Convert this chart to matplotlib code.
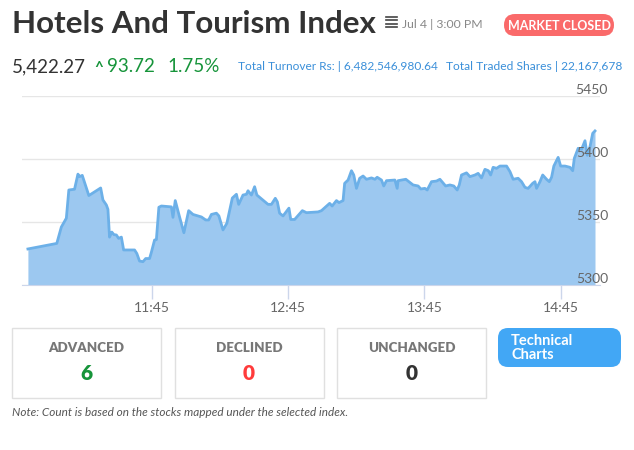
import matplotlib
matplotlib.use("Agg")
import matplotlib.pyplot as plt
from matplotlib.patches import FancyBboxPatch, Rectangle

plt.rcParams['font.family'] = ['Lato', 'DejaVu Sans']

# minutes after 11:00 and index value
minutes = [-9.4, 3.3, 5.3, 7.5, 8.6, 11.1, 12.6, 13.3, 14.5, 17.4, 22.6, 23.6, 25.1,
           25.8, 26.5, 27.5, 28.4, 29.5, 30.5, 31.7, 32.7, 37.5, 38.5, 39.7, 41.2,
           42.4, 44.1, 44.9, 46.3, 47.1, 48.2, 49.3, 53.7, 54.4, 55.4, 57.3, 59.2,
           61.3, 63.2, 66.9, 68.8, 70.1, 71.3, 73.5, 74.6, 76.4, 78.1, 80.5, 82.3,
           83.3, 85.2, 86.7, 87.4, 88.9, 90.3, 91.3, 96.2, 97.7, 99.4, 100.3, 101.3,
           102.8, 105.4, 106.2, 107.9, 111.3, 113.1, 118.2, 119.7, 123.3, 124.4,
           126.3, 127.4, 129.2, 129.9, 131.4, 132.9, 133.9, 135.1, 136.5, 138.0,
           139.5, 141.7, 143.2, 144.2, 146.1, 147.1, 148.3, 152.0, 153.0, 153.4,
           156.8, 160.0, 162.2, 163.4, 165.2, 166.2, 168.1, 170.3, 171.8, 174.3,
           176.2, 177.9, 179.4, 180.3, 181.3, 183.5, 185.0, 187.2, 188.6, 190.1,
           191.6, 193.1, 194.1, 195.2, 196.7, 198.2, 201.1, 202.6, 204.0, 206.2,
           207.7, 209.2, 210.6, 212.6, 213.6, 214.3, 215.8, 217.0, 218.7, 219.9,
           220.9, 221.9, 223.8, 224.9, 226.8, 229.0, 230.2, 230.9, 232.6, 234.1,
           235.6, 236.6, 237.8, 239.0, 240.0]
values = [5328.6, 5333.0, 5346.0, 5353.0, 5375.4, 5376.0, 5388.0, 5386.0, 5387.0,
          5371.0, 5377.0, 5367.5, 5363.5, 5360.0, 5338.0, 5342.0, 5340.0, 5339.7,
          5337.0, 5338.0, 5327.8, 5327.8, 5325.0, 5319.0, 5318.5, 5321.0, 5321.0,
          5326.0, 5335.7, 5336.0, 5361.7, 5362.7, 5362.0, 5353.7, 5367.0, 5354.0,
          5341.5, 5359.0, 5356.0, 5354.0, 5351.6, 5351.6, 5356.0, 5357.0, 5354.8,
          5343.7, 5349.0, 5369.0, 5372.0, 5364.0, 5371.4, 5372.0, 5374.8, 5371.4,
          5378.0, 5371.4, 5364.0, 5364.0, 5368.8, 5366.0, 5357.0, 5354.8, 5361.0,
          5352.0, 5352.0, 5359.0, 5357.4, 5358.0, 5359.0, 5364.8, 5362.7, 5367.0,
          5365.4, 5367.0, 5380.7, 5383.3, 5390.7, 5387.3, 5376.7, 5384.7, 5386.5,
          5383.9, 5385.0, 5383.9, 5385.5, 5383.3, 5378.6, 5382.8, 5383.3, 5376.7,
          5382.8, 5383.9, 5379.4, 5378.6, 5376.2, 5376.7, 5375.4, 5382.0, 5382.5,
          5383.9, 5378.6, 5379.4, 5378.6, 5375.4, 5379.4, 5387.3, 5389.0, 5386.0,
          5387.3, 5388.6, 5385.0, 5391.8, 5390.7, 5387.3, 5393.4, 5392.6, 5394.4,
          5394.4, 5390.0, 5383.9, 5384.7, 5382.0, 5377.5, 5376.7, 5380.7, 5382.0,
          5376.7, 5382.0, 5387.3, 5383.9, 5382.0, 5385.5, 5394.4, 5401.3, 5394.4,
          5394.4, 5393.4, 5390.7, 5400.5, 5408.5, 5407.7, 5414.5, 5403.0, 5409.8,
          5420.4, 5422.27]

tick_minutes = [45, 105, 165, 225]
tick_labels = ['11:45', '12:45', '13:45', '14:45']
y_ticks = [5300, 5350, 5400, 5450]

box_titles = ['ADVANCED', 'DECLINED', 'UNCHANGED']
box_counts = ['6', '0', '0']
box_colors = ['#16943a', '#ff3b3b', '#333333']

W, H = 634, 450
fig = plt.figure(figsize=(W / 100, H / 100), dpi=100)

# background layer in pixel coords
bg = fig.add_axes([0, 0, 1, 1])
bg.set_xlim(0, W)
bg.set_ylim(H, 0)
bg.axis('off')

# chart
ax = fig.add_axes([22 / W, (H - 285) / H, 578 / W, 189 / H])
ax.fill_between(minutes, values, 5300, color='#9cc8f0', lw=0)
ax.plot(minutes, values, color='#6cb0e8', lw=2, solid_joinstyle='round')
ax.set_xlim(-12, 242.2)
ax.set_ylim(5300, 5450)
for v in y_ticks:
    ax.axhline(v, color='#e6e6e6', lw=1, zorder=0)
    ax.text(1.014, v, str(v), transform=ax.get_yaxis_transform(), ha='right',
            va='bottom', fontsize=10, color='#666666')
ax.set_yticks([])
ax.set_xticks(tick_minutes)
ax.set_xticklabels(tick_labels, fontsize=10, color='#666666')
ax.tick_params(axis='x', length=10, width=1, color='#ccd6eb', pad=2)
for s in ['top', 'right', 'left']:
    ax.spines[s].set_visible(False)
ax.spines['bottom'].set_color('#ccd6eb')
ax.patch.set_alpha(0)

# header
bg.text(12, 24, 'Hotels And Tourism Index', fontsize=22.6, fontweight='bold',
        color='#333333', va='center', ha='left')
for i in range(4):
    bg.plot([386, 397], [17 + i * 3.3, 17 + i * 3.3], color='#444444', lw=1.2)
bg.text(402, 24, 'Jul 4 | 3:00 PM', fontsize=8.8, color='#888888', va='center')
bg.add_patch(FancyBboxPatch((504, 14), 110, 22, boxstyle='round,pad=0,rounding_size=11',
                            fc='#fa6a6a', ec='none'))
bg.text(559, 25.5, 'MARKET CLOSED', fontsize=9, fontweight='bold', color='white',
        ha='center', va='center')

bg.text(12, 67, '5,422.27', fontsize=13.5, color='#333333', va='center')
bg.text(94, 68, '^', fontsize=11, color='#16943a', va='center', fontweight='bold')
bg.text(107, 67, '93.72', fontsize=13.5, color='#16943a', va='center')
bg.text(167, 67, '1.75%', fontsize=13.5, color='#16943a', va='center')
bg.text(238, 66, 'Total Turnover Rs: | 6,482,546,980.64', fontsize=8.55,
        color='#3a8fd9', va='center')
bg.text(446, 66, 'Total Traded Shares | 22,167,678', fontsize=8.65,
        color='#3a8fd9', va='center')

# count boxes
for i, (t, c, col) in enumerate(zip(box_titles, box_counts, box_colors)):
    x0 = 12 + i * 162.5
    bg.add_patch(Rectangle((x0, 328), 149, 70, fc='white', ec='#e0e0e0', lw=1))
    bg.text(x0 + 74.5, 348, t, fontsize=9.6, fontweight='heavy', color='#777777',
            ha='center', va='center')
    bg.text(x0 + 74.5, 373, c, fontsize=15, fontweight='heavy', color=col,
            ha='center', va='center')

bg.add_patch(FancyBboxPatch((498, 328), 123, 39, boxstyle='round,pad=0,rounding_size=10',
                            fc='#42a7f5', ec='none'))
bg.text(511, 348, 'Technical\nCharts', fontsize=10.5, color='white', va='center',
        ha='left', linespacing=0.95, fontweight='bold')

bg.text(12, 412, 'Note: Count is based on the stocks mapped under the selected index.',
        fontsize=8.5, style='italic', color='#555555', va='center')

fig.savefig('out.png', dpi=100)
